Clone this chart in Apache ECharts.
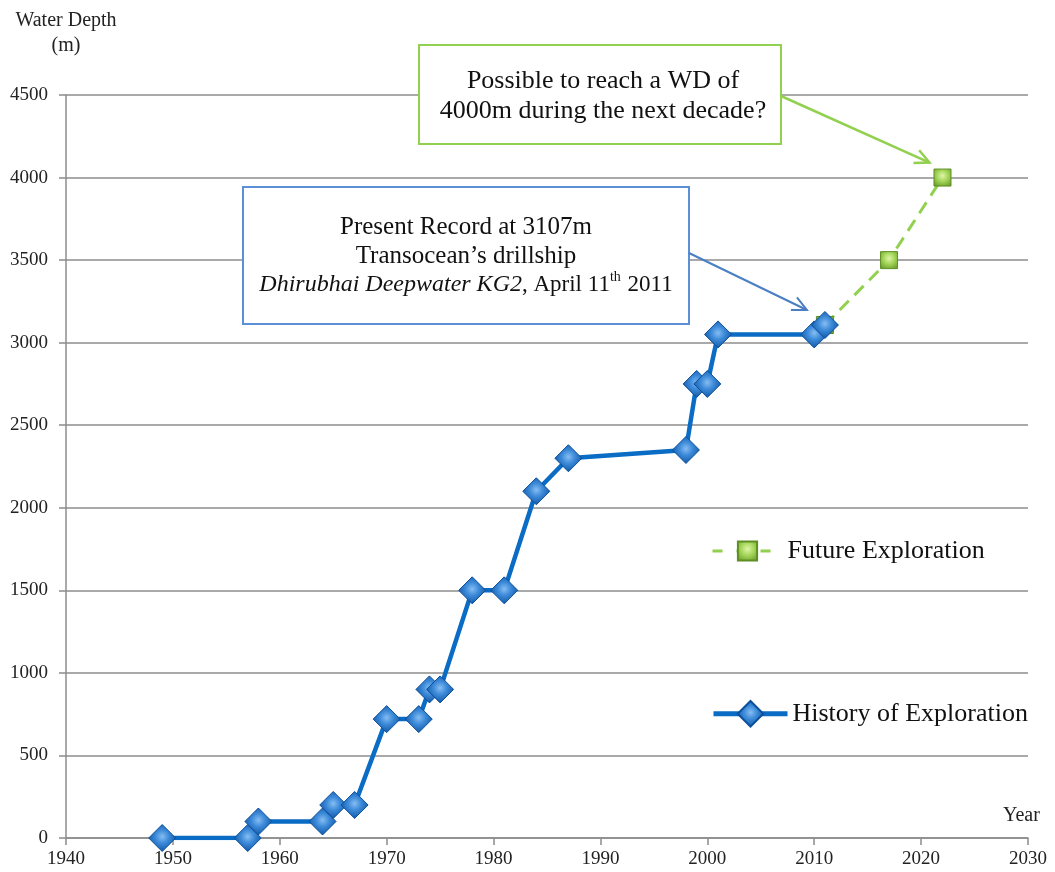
<!DOCTYPE html>
<html>
<head>
<meta charset="utf-8">
<script src="https://cdn.jsdelivr.net/npm/echarts@6/dist/echarts.min.js"></script>
<style>
html,body{margin:0;padding:0;background:#fff;}
#chart{width:1055px;height:872px;}
</style>
</head>
<body>
<div id="chart"></div>
<script>
// ---- data ----
var historyYears  = [1949, 1957, 1958, 1964, 1965, 1967, 1970, 1973, 1974, 1975, 1978, 1981, 1984, 1987, 1998, 1999, 2000, 2001, 2010, 2011];
var historyDepths = [0,    0,    100,  100,  200,  200,  720,  720,  900,  900,  1500, 1500, 2100, 2300, 2350, 2750, 2750, 3050, 3050, 3107];
var futureYears   = [2011, 2017, 2022];
var futureDepths  = [3107, 3500, 4000];
var xTicks = [1940, 1950, 1960, 1970, 1980, 1990, 2000, 2010, 2020, 2030];
var yTicks = [0, 500, 1000, 1500, 2000, 2500, 3000, 3500, 4000, 4500];
var seriesNames = ['History of Exploration', 'Future Exploration'];

function pairs(xs, ys){ return xs.map(function(x,i){ return [x, ys[i]]; }); }

var FONT = '"Liberation Serif", "DejaVu Serif", serif';

var chart = echarts.init(document.getElementById('chart'));

var diamondFill = new echarts.graphic.RadialGradient(0.5, 0.45, 0.6, [
  {offset:0, color:'#86bdf2'}, {offset:0.4, color:'#3c8ad9'}, {offset:1, color:'#0a4e9a'}
]);
var squareFill = new echarts.graphic.RadialGradient(0.5, 0.4, 0.7, [
  {offset:0, color:'#dff5a8'}, {offset:0.45, color:'#a4d65a'}, {offset:1, color:'#679a27'}
]);

chart.setOption({
  animation:false,
  backgroundColor:'#ffffff',
  grid:{left:66, right:27, top:95, bottom:34, containLabel:false},
  xAxis:{
    type:'value', min:xTicks[0], max:xTicks[xTicks.length-1], interval:10,
    name:'Year', nameLocation:'end', nameGap:-25,
    nameTextStyle:{fontFamily:FONT, fontSize:20, color:'#222', align:'left', verticalAlign:'bottom', padding:[0,0,12,0]},
    axisLine:{show:true, onZero:false, lineStyle:{color:'#8c8c8c', width:1.5}},
    axisTick:{show:true, inside:false, length:7, lineStyle:{color:'#8c8c8c', width:1.5}},
    axisLabel:{fontFamily:FONT, fontSize:19, color:'#222', margin:12,
      formatter:function(v){ return xTicks.indexOf(v) >= 0 ? String(v) : ''; }},
    splitLine:{show:false}
  },
  yAxis:{
    type:'value', min:yTicks[0], max:yTicks[yTicks.length-1], interval:500,
    name:'Water Depth\n(m)', nameLocation:'end', nameGap:37,
    nameTextStyle:{fontFamily:FONT, fontSize:20, color:'#222', align:'center', lineHeight:25},
    axisLine:{show:true, lineStyle:{color:'#8c8c8c', width:1.5}},
    axisTick:{show:true, inside:false, length:7, lineStyle:{color:'#8c8c8c', width:1.5}},
    axisLabel:{fontFamily:FONT, fontSize:19, color:'#222', margin:18,
      formatter:function(v){ return yTicks.indexOf(v) >= 0 ? String(v) : ''; }},
    splitLine:{show:true, lineStyle:{color:'#8c8c8c', width:1.5}}
  },
  legend:[
    {data:[seriesNames[1]], left:711, top:538, padding:0, itemWidth:70, itemHeight:24, itemGap:10,
     lineStyle:{width:3, type:[10,14]},
     textStyle:{fontFamily:FONT, fontSize:26, color:'#111'}},
    {data:[seriesNames[0]], left:711, top:700, padding:0, itemWidth:74, itemHeight:32, itemGap:6,
     lineStyle:{width:5},
     textStyle:{fontFamily:FONT, fontSize:26, color:'#111'}}
  ],
  series:[
    {
      name:seriesNames[1], type:'line', data:pairs(futureYears, futureDepths), z:2,
      symbol:'rect', symbolSize:17,
      lineStyle:{color:'#92d050', width:3, type:[13,8]},
      itemStyle:{color:squareFill, borderColor:'#5f8f24', borderWidth:1}
    },
    {
      name:seriesNames[0], type:'line', data:pairs(historyYears, historyDepths), z:3,
      symbol:'diamond', symbolSize:[27,27],
      lineStyle:{color:'#0a6cc4', width:4.5},
      itemStyle:{color:diamondFill, borderColor:'#0b4f9c', borderWidth:1}
    }
  ]
});

function px(x, y){ return chart.convertToPixel({gridIndex:0}, [x, y]); }
var presentTip = px(historyYears[historyYears.length-1], historyDepths[historyDepths.length-1]);
var futureTip = px(futureYears[futureYears.length-1], futureDepths[futureDepths.length-1]);

function arrowHead(tx, ty, fx, fy, len, color, width){
  var a = Math.atan2(ty-fy, tx-fx), s = 0.45;
  return {type:'polyline', z:10, shape:{points:[
      [tx - len*Math.cos(a - s), ty - len*Math.sin(a - s)], [tx, ty],
      [tx - len*Math.cos(a + s), ty - len*Math.sin(a + s)]]},
    style:{stroke:color, lineWidth:width, fill:null}};
}

var blueStart = [689, 253], blueEnd = [presentTip[0]-18, presentTip[1]-15];
var greenStart = [781, 96], greenEnd = [futureTip[0]-13, futureTip[1]-15];

chart.setOption({
  graphic:[
    {type:'rect', z:10, shape:{x:243, y:187, width:446, height:137},
     style:{fill:'#fff', stroke:'#5b8fd6', lineWidth:2}},
    {type:'text', z:11, x:466, y:256,
     style:{
       text:'{n|Present Record at 3107m}\n{n|Transocean\u2019s drillship}\n{i|Dhirubhai Deepwater KG2}{t|, April 11}{s|th}{t| 2011}',
       font:'25px ' + FONT, fill:'#111', align:'center', verticalAlign:'middle', lineHeight:29,
       rich:{
         n:{fontSize:25, fontFamily:FONT, lineHeight:29},
         i:{fontStyle:'italic', fontSize:24, fontFamily:FONT, lineHeight:29},
         t:{fontSize:23, fontFamily:FONT, lineHeight:29},
         s:{fontSize:14, fontFamily:FONT, verticalAlign:'top', lineHeight:29, padding:[0,1,10,0]}
       }
     }},
    {type:'line', z:10, shape:{x1:blueStart[0], y1:blueStart[1], x2:blueEnd[0], y2:blueEnd[1]},
     style:{stroke:'#4a7fc3', lineWidth:2}},
    arrowHead(blueEnd[0], blueEnd[1], blueStart[0], blueStart[1], 16, '#4a7fc3', 2),

    {type:'rect', z:10, shape:{x:419, y:45, width:362, height:99},
     style:{fill:'#fff', stroke:'#92d050', lineWidth:2}},
    {type:'text', z:11, x:603, y:96,
     style:{text:'Possible to reach a WD of\n4000m during the next decade?',
       font:'26px ' + FONT, fill:'#111', align:'center', verticalAlign:'middle', lineHeight:30}},
    {type:'line', z:10, shape:{x1:greenStart[0], y1:greenStart[1], x2:greenEnd[0], y2:greenEnd[1]},
     style:{stroke:'#92d050', lineWidth:2.5}},
    arrowHead(greenEnd[0], greenEnd[1], greenStart[0], greenStart[1], 16, '#92d050', 2.5)
  ]
});
</script>
</body>
</html>
